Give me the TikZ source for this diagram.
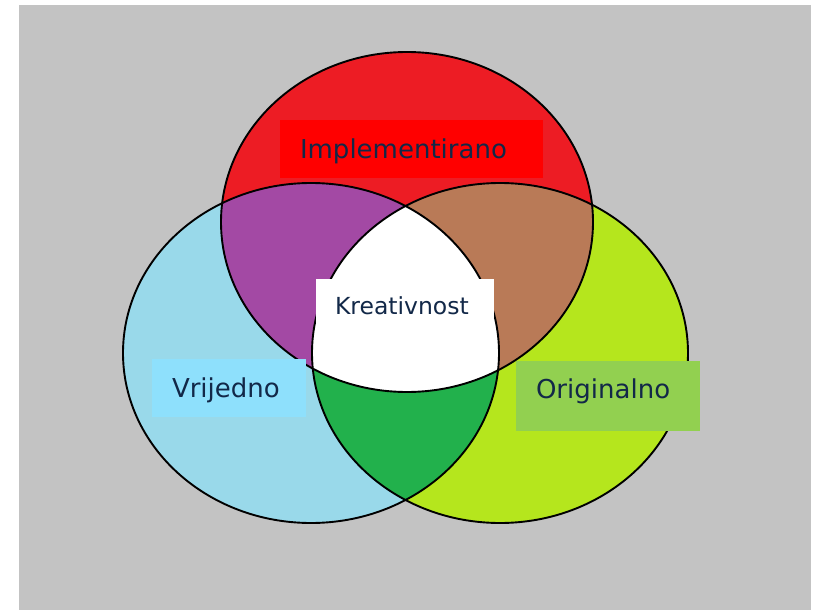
\documentclass[tikz,border=0pt]{standalone}
\usepackage{fontspec}
\setmainfont{DejaVu Sans}
\definecolor{bggrey}{HTML}{C3C3C3}
\definecolor{cred}{HTML}{ED1C24}
\definecolor{cblue}{HTML}{99D9EA}
\definecolor{clime}{HTML}{B5E61D}
\definecolor{cpurple}{HTML}{A349A4}
\definecolor{cbrown}{HTML}{B97A57}
\definecolor{cgreen}{HTML}{22B14C}
\definecolor{boxred}{HTML}{FF0000}
\definecolor{boxblue}{HTML}{8EE0FC}
\definecolor{boxgreen}{HTML}{92D050}
\definecolor{txt}{RGB}{18,40,72}
\tikzset{
  lblbox/.style={draw=none, inner sep=0pt, outer sep=0pt},
  lbltext/.style={inner sep=0pt, outer sep=0pt, anchor=base west, text=txt, font=\fontsize{26}{30}\selectfont},
  outline/.style={draw=black, line width=1.9pt}
}
\begin{document}
\begin{tikzpicture}[x=1pt,y=-1pt]
\useasboundingbox (0,0) rectangle (823,610);
\fill[white] (0,0) rectangle (823,610);
\fill[bggrey] (19,5) rectangle (811,610);
\def\redC{(407,222) ellipse [x radius=186pt, y radius=170pt]}
\def\blueC{(311,353) ellipse [x radius=188pt, y radius=170pt]}
\def\limeC{(500,353) ellipse [x radius=188pt, y radius=170pt]}
% base fills
\fill[cred] \redC;
\fill[cblue] \blueC;
\fill[clime] \limeC;
% pairwise intersections
\begin{scope}\clip \redC; \fill[cpurple] \blueC; \end{scope}
\begin{scope}\clip \redC; \fill[cbrown] \limeC; \end{scope}
\begin{scope}\clip \blueC; \fill[cgreen] \limeC; \end{scope}
\begin{scope}\clip \redC; \clip \blueC; \fill[white] \limeC; \end{scope}
% outlines
\draw[outline] \redC;
\draw[outline] \blueC;
\draw[outline] \limeC;
% label boxes
\node[lblbox, fill=boxred, minimum width=263pt, minimum height=58pt] (implbox) at (411.5,149) {};
\node[lblbox, fill=boxblue, minimum width=154pt, minimum height=58pt] (vrijbox) at (229,388) {};
\node[lblbox, fill=boxgreen, minimum width=184pt, minimum height=70pt] (origbox) at (608,396) {};
\node[lblbox, fill=white, minimum width=178pt, minimum height=73pt] (kreabox) at (405,315.5) {};
% labels
\node[lbltext] (impl) at (300,158) {Implementirano};
\node[lbltext] (vrij) at (172,397) {Vrijedno};
\node[lbltext] (orig) at (536,398) {Originalno};
\node[lbltext, font=\fontsize{23.5}{28}\selectfont] (krea) at (335,314) {Kreativnost};
\end{tikzpicture}
\end{document}
